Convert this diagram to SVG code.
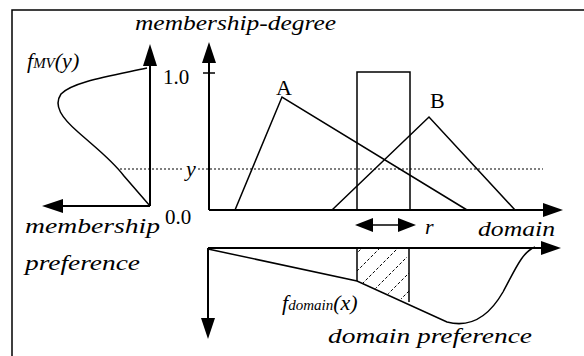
<svg xmlns="http://www.w3.org/2000/svg" width="584" height="356" viewBox="0 0 584 356">
<style>
.ln{fill:none;stroke:#000;stroke-width:1.5}
.ax{fill:none;stroke:#000;stroke-width:2}
.dot{fill:none;stroke:#000;stroke-width:1.2;stroke-dasharray:2 2}
.ah{fill:#000;stroke:none}
.it{font-family:"Liberation Serif","DejaVu Serif",serif;font-style:italic;fill:#000}
.up{font-family:"Liberation Serif","DejaVu Serif",serif;fill:#000}
.hatch{stroke:#000;stroke-width:1;stroke-dasharray:3 2}
</style>
<defs>
<clipPath id="hclip"><path d="M357,248 L409,248 L409,302 L357,281 Z"/></clipPath>
</defs>
<rect width="584" height="356" fill="#fff"/>
<path class="ln" d="M12,356 L12,10 L584,10"/>

<g id="left-panel">
<line class="ax" x1="150" y1="206" x2="150" y2="62"/>
<polygon class="ah" points="150,44 143,66 157,66"/>
<line class="ax" x1="150" y1="206" x2="58" y2="206"/>
<polygon class="ah" points="42,206 63,199 63,213"/>
<path class="ln" d="M147,68 C110,76 72,82 61,94 C53,106 62,118 78,132 C96,148 112,160 124,176 L150,206"/>
<text class="it" x="27" y="68" font-size="22">f<tspan font-size="15">MV</tspan>(y)</text>
<text class="it" x="25" y="233" font-size="22" textLength="135" lengthAdjust="spacingAndGlyphs">membership</text>
<text class="it" x="25" y="270" font-size="22" textLength="115" lengthAdjust="spacingAndGlyphs">preference</text>
</g>

<g id="main-panel">
<line class="ax" x1="209" y1="210" x2="209" y2="58"/>
<polygon class="ah" points="209,42 202,63 216,63"/>
<line class="ax" x1="209" y1="210" x2="546" y2="210"/>
<polygon class="ah" points="563,210 543,203 543,217"/>
<line class="ln" x1="203" y1="73" x2="215" y2="73"/>
<text class="it" x="135" y="30" font-size="21" textLength="201" lengthAdjust="spacingAndGlyphs">membership-degree</text>
<text class="up" x="163" y="84" font-size="21">1.0</text>
<text class="up" x="165" y="224" font-size="21">0.0</text>
<text class="it" x="186" y="176" font-size="22">y</text>
<line class="dot" x1="120" y1="169" x2="184" y2="169"/>
<line class="dot" x1="198" y1="169" x2="543" y2="169"/>
</g>

<g id="set-A">
<polyline class="ln" points="235,210 282,97 467,210"/>
<text class="up" x="276" y="95" font-size="22">A</text>
</g>

<g id="set-B">
<polyline class="ln" points="332,210 429,117 515,210"/>
<text class="up" x="430" y="108" font-size="22">B</text>
</g>

<g id="range-r">
<rect class="ln" x="357" y="72" width="53" height="138"/>
<line class="ln" x1="370" y1="225" x2="402" y2="225"/>
<polygon class="ah" points="355,225 373,218 373,232"/>
<polygon class="ah" points="416,225 398,218 398,232"/>
<text class="it" x="425" y="234" font-size="22">r</text>
<text class="it" x="478" y="236" font-size="22" textLength="77" lengthAdjust="spacingAndGlyphs">domain</text>
</g>

<g id="bottom-panel">
<line class="ax" x1="208" y1="248" x2="545" y2="248"/>
<polygon class="ah" points="561,248 541,241 541,255"/>
<line class="ax" x1="208" y1="248" x2="208" y2="322"/>
<polygon class="ah" points="208,339 201,318 215,318"/>
<path class="ln" d="M208,249 L357,281 L447,322 C470,328 488,318 503,292 C515,270 522,252 535,247"/>
<g clip-path="url(#hclip)">
<line class="hatch" x1="330" y1="280" x2="380" y2="230"/>
<line class="hatch" x1="339" y1="289" x2="389" y2="239"/>
<line class="hatch" x1="348" y1="298" x2="398" y2="248"/>
<line class="hatch" x1="357" y1="307" x2="407" y2="257"/>
<line class="hatch" x1="366" y1="316" x2="416" y2="266"/>
<line class="hatch" x1="375" y1="325" x2="425" y2="275"/>
<line class="hatch" x1="384" y1="334" x2="434" y2="284"/>
<line class="hatch" x1="393" y1="343" x2="443" y2="293"/>
<line class="hatch" x1="402" y1="352" x2="452" y2="302"/>
</g>
<line class="ln" x1="357" y1="248" x2="357" y2="281"/>
<line class="ln" x1="409" y1="248" x2="409" y2="302"/>
<text class="it" x="282" y="310" font-size="22">f<tspan font-size="15">domain</tspan>(x)</text>
<text class="it" x="328" y="343" font-size="22" textLength="204" lengthAdjust="spacingAndGlyphs">domain preference</text>
</g>
</svg>
